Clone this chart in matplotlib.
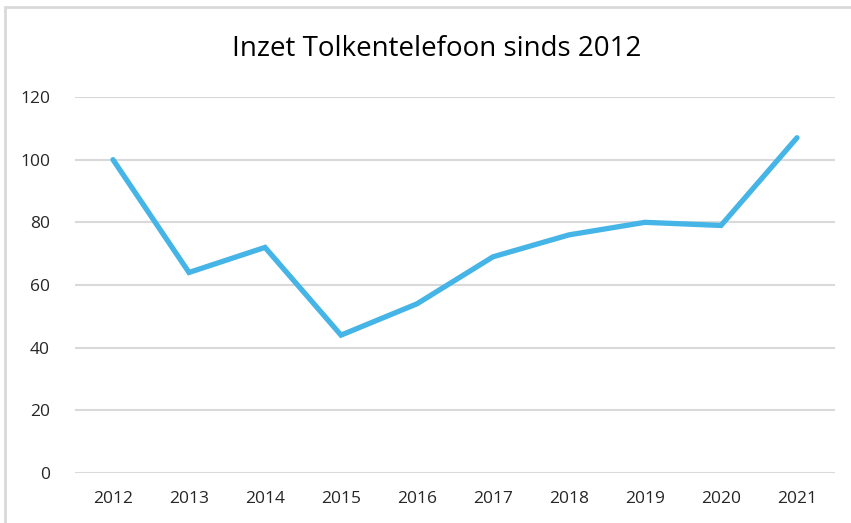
import matplotlib.pyplot as plt
from matplotlib.patches import Rectangle

years = ['2012', '2013', '2014', '2015', '2016', '2017', '2018', '2019', '2020', '2021']
inzet = [100, 64, 72, 44, 54, 69, 76, 80, 79, 107]
yticks = [0, 20, 40, 60, 80, 100, 120]

plt.rcParams['font.family'] = ['Open Sans', 'DejaVu Sans']

W, H = 851, 523
fig = plt.figure(figsize=(W / 100, H / 100), dpi=100)

# light grey frame round the chart (runs off right/bottom edge)
fig.patches.append(Rectangle((5 / W, -0.05), 1.1, 1 - 7 / H + 0.05, transform=fig.transFigure,
                             fill=False, edgecolor='#d9d9d9', linewidth=2))

ax = fig.add_axes([75 / W, 1 - 473 / H, (835 - 75) / W, (473 - 97) / H])
x = range(len(years))
ax.plot(x, inzet, color='#45b4e6', linewidth=3.8, solid_capstyle='round', solid_joinstyle='miter', zorder=3)

ax.set_xlim(-0.5, len(years) - 0.5)
ax.set_ylim(0, 120)
ax.set_yticks(yticks)
ax.set_xticks(list(x))
ax.set_xticklabels(years)
ax.grid(axis='y', color='#d9d9d9', linewidth=1.5)
ax.set_axisbelow(True)
for s in ax.spines.values():
    s.set_visible(False)
ax.tick_params(axis='both', length=0, labelsize=12.5, colors='#262626')
ax.tick_params(axis='y', pad=18)
ax.tick_params(axis='x', pad=13)

fig.text(437 / W, 1 - 49 / H, 'Inzet Tolkentelefoon sinds 2012', ha='center', va='center',
         fontsize=20, color='#000000')

fig.savefig('out.png', dpi=100)
